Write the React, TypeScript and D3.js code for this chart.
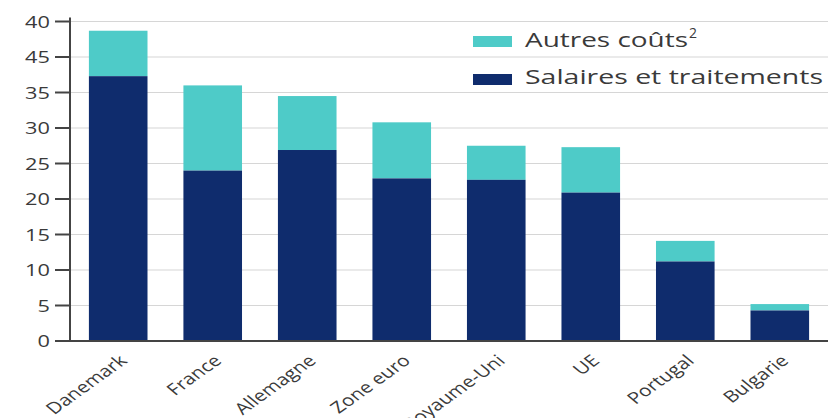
import React from "react";
import * as d3 from "d3";

const categories = ["Danemark", "France", "Allemagne", "Zone euro", "Royaume-Uni", "UE", "Portugal", "Bulgarie"];
const salaires = [37.3, 24.0, 26.9, 22.9, 22.7, 20.9, 11.2, 4.3];
const totaux = [43.7, 36.0, 34.5, 30.8, 27.5, 27.3, 14.1, 5.2];
const tickValues = [0, 5, 10, 15, 20, 25, 30, 35, 40, 45];
const tickLabels = ["0", "5", "10", "15", "20", "25", "30", "35", "45", "40"];
const seriesNames = ["Autres coûts", "Salaires et traitements"];

const W = 839, H = 418;
const left = 70, right = 828, top = 21.5, bottom = 341;
const TEAL = "#4ecbc8", NAVY = "#0f2c6d", TXT = "#3a3a3a";
const FONT = "'Open Sans', 'Noto Sans', sans-serif";

export default function App() {
  const x = d3.scaleBand<string>().domain(categories).range([left, right]).paddingInner(0.38).paddingOuter(0.2);
  const y = d3.scaleLinear().domain([0, 45]).range([bottom, top]);
  return (
    <svg width={W} height={H} style={{ position: "absolute", left: 0, top: 0, background: "#fff" }} fontFamily={FONT}>
      {tickValues.map((v) => (
        <line key={"g" + v} x1={left} x2={right} y1={y(v)} y2={y(v)} stroke="#d6d6d6" strokeWidth={1.2} />
      ))}
      {categories.map((c, i) => (
        <g key={c}>
          <rect x={x(c)} width={x.bandwidth()} y={y(totaux[i])} height={y(salaires[i]) - y(totaux[i])} fill={TEAL} />
          <rect x={x(c)} width={x.bandwidth()} y={y(salaires[i])} height={bottom - y(salaires[i])} fill={NAVY} />
        </g>
      ))}
      <line x1={left} x2={left} y1={top - 4} y2={bottom} stroke="#444" strokeWidth={2} />
      <line x1={left - 1} x2={right} y1={bottom} y2={bottom} stroke="#444" strokeWidth={2} />
      {tickValues.map((v, i) => (
        <g key={"t" + v}>
          <line x1={55} x2={left} y1={y(v)} y2={y(v)} stroke="#444" strokeWidth={2} />
          <text transform={`translate(50,${y(v)}) scale(1.28,1)`} dy="0.36em" textAnchor="end" fontSize={17} fill={TXT}>{tickLabels[i]}</text>
        </g>
      ))}
      {categories.map((c) => {
        const cx = (x(c) as number) + x.bandwidth() / 2;
        return (
          <text key={"l" + c} transform={`translate(${cx + 10},${362}) scale(1.3,1) rotate(-43)`} textAnchor="end" fontSize={16} fill={TXT}>{c}</text>
        );
      })}
      <rect x={473} y={36} width={39} height={11} fill={TEAL} />
      <text x={525} y={46.5} fontSize={20} fill={TXT} textLength={163} lengthAdjust="spacingAndGlyphs">{seriesNames[0]}</text>
      <text x={689} y={38} fontSize={14} fill={TXT}>2</text>
      <rect x={473} y={74} width={39} height={11} fill={NAVY} />
      <text x={525} y={84} fontSize={20} fill={TXT} textLength={298} lengthAdjust="spacingAndGlyphs">{seriesNames[1]}</text>
    </svg>
  );
}
